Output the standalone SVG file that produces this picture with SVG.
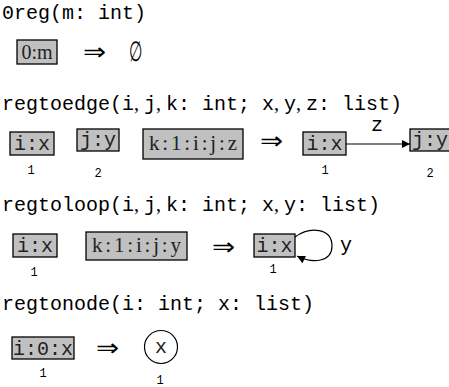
<svg xmlns="http://www.w3.org/2000/svg" width="449" height="387" viewBox="0 0 449 387">
<defs>
<style>
.t{font-family:"Liberation Mono",monospace;font-size:20px;fill:#000}
.c{font-family:"Liberation Serif",serif}
.box{fill:#c0c0c0;stroke:#000;stroke-width:1.3}
.bt{font-family:"Liberation Mono",monospace;font-size:20px;text-anchor:middle;fill:#222}
.bs{font-family:"Liberation Serif",serif;font-size:20px;text-anchor:middle;fill:#222}
.n{font-family:"Liberation Mono",monospace;font-size:12px;text-anchor:middle;fill:#000}
.ar{font-family:"DejaVu Sans",sans-serif;font-weight:200;font-size:24px;text-anchor:middle;fill:#000}
.e{fill:none;stroke:#000;stroke-width:1.2}
</style>
<marker id="ah" viewBox="0 0 10 10" refX="10" refY="5" markerWidth="11" markerHeight="8" markerUnits="userSpaceOnUse" orient="auto"><path d="M0,0 L10,5 L0,10 z" fill="#000"/></marker>
</defs>
<g id="titles">
<text class="t" x="2" y="19">0reg(m: int)</text>
<text class="t" x="2" y="110">regtoedge(i<tspan class="c">, </tspan>j<tspan class="c">, </tspan>k: int; x<tspan class="c">, </tspan>y<tspan class="c">, </tspan>z: list)</text>
<text class="t" x="2" y="211">regtoloop(i<tspan class="c">, </tspan>j<tspan class="c">, </tspan>k: int; x<tspan class="c">, </tspan>y: list)</text>
<text class="t" x="2" y="310">regtonode(i: int; x: list)</text>
</g>
<g id="r1-box"><rect class="box" x="17" y="40" width="40" height="24"/><text class="bs" x="37" y="59">0:m</text></g>
<g id="r1-rhs"><text class="ar" x="95" y="60" transform="translate(95 0) scale(1.15 1) translate(-95 0)">⇒</text><text class="ar" x="136" y="61" style="font-size:28px" transform="translate(136 0) scale(0.55 1) translate(-136 0)">∅</text></g>
<g id="r2-ix"><rect class="box" x="10" y="132" width="44" height="23"/><text class="bt" x="32" y="150">i:x</text><text class="n" x="31" y="174">1</text></g>
<g id="r2-jy"><rect class="box" x="77" y="129" width="42" height="22"/><text class="bt" x="98" y="146">j:y</text><text class="n" x="98" y="177">2</text></g>
<g id="r2-k"><rect class="box" x="143" y="129" width="100" height="30"/><text class="bs" x="193" y="150" style="font-size:21px" textLength="88" lengthAdjust="spacing">k:1:i:j:z</text></g>
<text class="ar" x="272" y="149" transform="translate(272 0) scale(1.15 1) translate(-272 0)">⇒</text>
<g id="r2-ix2"><rect class="box" x="303" y="132" width="43" height="23"/><text class="bt" x="324.5" y="150">i:x</text><text class="n" x="325" y="174">1</text></g>
<g id="r2-jy2"><rect class="box" x="410" y="129" width="40" height="22"/><text class="bt" x="430" y="146">j:y</text><text class="n" x="430" y="177">2</text></g>
<g id="r3-ix"><rect class="box" x="13" y="234" width="44" height="23"/><text class="bt" x="35" y="252">i:x</text><text class="n" x="34" y="276">1</text></g>
<g id="r3-k"><rect class="box" x="86" y="232" width="101" height="28"/><text class="bs" x="136.5" y="252" style="font-size:21px" textLength="89" lengthAdjust="spacing">k:1:i:j:y</text></g>
<text class="ar" x="224" y="255" transform="translate(224 0) scale(1.15 1) translate(-224 0)">⇒</text>
<g id="r3-ix2"><rect class="box" x="254" y="234" width="41" height="23"/><text class="bt" x="274.5" y="252">i:x</text><text class="n" x="273" y="273">1</text></g>
<g id="r4-box"><rect class="box" x="12" y="337" width="62" height="22"/><text class="bt" x="43" y="355">i:0:x</text><text class="n" x="43" y="377">1</text></g>
<text class="ar" x="108" y="356" transform="translate(108 0) scale(1.15 1) translate(-108 0)">⇒</text>
<g id="r4-node"><circle cx="161" cy="347" r="16.5" fill="#fff" stroke="#000" stroke-width="1.2"/><text class="bt" x="161" y="353">x</text><text class="n" x="160" y="384">1</text></g>
<g id="connectors">
<line class="e" x1="346" y1="144" x2="410" y2="144" marker-end="url(#ah)"/>
<text class="t" x="377" y="131" text-anchor="middle">z</text>
<path class="e" d="M295,237 C310,226 332,228 332,246 C332,262 313,264 297,256" marker-end="url(#ah)"/>
<text class="t" x="346" y="251" text-anchor="middle">y</text>
</g>
</svg>
